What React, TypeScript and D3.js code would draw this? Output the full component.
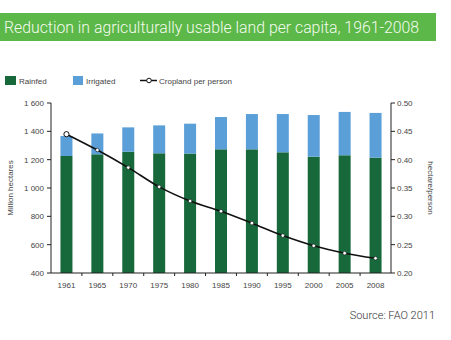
import React from "react";
import * as d3 from "d3";

const years = ["1961", "1965", "1970", "1975", "1980", "1985", "1990", "1995", "2000", "2005", "2008"];
const rainfed = [1226, 1238, 1256, 1245, 1243, 1273, 1273, 1252, 1221, 1231, 1214];
const totalLand = [1367, 1385, 1428, 1442, 1454, 1501, 1522, 1522, 1515, 1537, 1530];
const perPerson = [0.445, 0.417, 0.386, 0.352, 0.327, 0.309, 0.288, 0.266, 0.248, 0.235, 0.226];
const leftTicks = [400, 600, 800, 1000, 1200, 1400, 1600];
const rightTicks = [0.2, 0.25, 0.3, 0.35, 0.4, 0.45, 0.5];

const W = 451, H = 340;
const X0 = 51, X1 = 391, YT = 103, YB = 273;
const GREEN = "#17693b";
const BLUE = "#5b9fd8";
const TXT = "#444";
const FONT = "Liberation Sans, Arial, sans-serif";

const fmtLeft = (v: number) => (v >= 1000 ? `${Math.floor(v / 1000)} ${String(v % 1000).padStart(3, "0")}` : String(v));

export default function App() {
  const xb = d3.scaleBand<string>().domain(years).range([X0, X1]);
  const yL = d3.scaleLinear().domain([400, 1600]).range([YB, YT]);
  const yR = d3.scaleLinear().domain([0.2, 0.5]).range([YB, YT]);
  const cx = (yr: string) => (xb(yr) as number) + xb.bandwidth() / 2;
  const bw = 12;
  const line = d3
    .line<number>()
    .x((_, i) => cx(years[i]))
    .y((d) => yR(d))
    .curve(d3.curveMonotoneX);

  return (
    <svg width={W} height={H} style={{ position: "absolute", left: 0, top: 0, background: "#fff" }} fontFamily={FONT}>
      {/* Title band */}
      <rect x={0} y={13} width={436} height={28} fill="#5cb848" />
      <text x={4} y={33} fontSize={16} fontFamily="Roboto, sans-serif" fontWeight={300} fill="#f4fbef" textLength={415} lengthAdjust="spacingAndGlyphs">
        Reduction in agriculturally usable land per capita, 1961-2008
      </text>

      {/* Legend */}
      <rect x={5} y={76} width={11} height={9} fill={GREEN} />
      <text x={19} y={83.5} fontSize={8} fill={TXT}>Rainfed</text>
      <rect x={73} y={76} width={10} height={9} fill={BLUE} />
      <text x={86} y={83.5} fontSize={8} fill={TXT}>Irrigated</text>
      <line x1={140} x2={157} y1={80.5} y2={80.5} stroke="#111" strokeWidth={1.5} />
      <circle cx={149} cy={80.5} r={2.3} fill="#fff" stroke="#111" strokeWidth={1} />
      <text x={159} y={83.5} fontSize={8} fill={TXT}>Cropland per person</text>

      {/* Bars */}
      {years.map((yr, i) => (
        <g key={yr}>
          <rect x={cx(yr) - bw / 2} y={yL(rainfed[i])} width={bw} height={YB - yL(rainfed[i])} fill={GREEN} />
          <rect x={cx(yr) - bw / 2} y={yL(totalLand[i])} width={bw} height={yL(rainfed[i]) - yL(totalLand[i])} fill={BLUE} />
        </g>
      ))}

      {/* Line */}
      <path d={line(perPerson) || ""} fill="none" stroke="#111" strokeWidth={1.6} />
      {perPerson.map((v, i) => (
        <circle key={i} cx={cx(years[i])} cy={yR(v)} r={i === 0 ? 2.6 : 1.8} fill="#fff" stroke="#111" strokeWidth={i === 0 ? 1 : 0.6} />
      ))}

      {/* Left axis */}
      <line x1={X0} x2={X0} y1={YT} y2={YB} stroke="#222" strokeWidth={1} />
      {leftTicks.map((t) => (
        <g key={t}>
          <line x1={X0 - 4} x2={X0} y1={yL(t)} y2={yL(t)} stroke="#222" />
          <text x={44} y={yL(t) + 3} fontSize={8} fill={TXT} textAnchor="end">{fmtLeft(t)}</text>
        </g>
      ))}
      <text transform={`translate(13,${(YT + YB) / 2}) rotate(-90)`} fontSize={8} fill={TXT} textAnchor="middle">Million hectares</text>

      {/* Right axis */}
      <line x1={X1} x2={X1} y1={YT} y2={YB} stroke="#222" strokeWidth={1} />
      {rightTicks.map((t) => (
        <g key={t}>
          <line x1={X1} x2={X1 + 4} y1={yR(t)} y2={yR(t)} stroke="#222" />
          <text x={397} y={yR(t) + 3} fontSize={8} fill={TXT}>{t.toFixed(2)}</text>
        </g>
      ))}
      <text transform={`translate(428,${(YT + YB) / 2}) rotate(90)`} fontSize={8} fill={TXT} textAnchor="middle">hectare/person</text>

      {/* Bottom axis */}
      <line x1={X0} x2={X1} y1={YB} y2={YB} stroke="#222" strokeWidth={1} />
      {years.slice(1).map((yr) => (
        <line key={yr} x1={xb(yr) as number} x2={xb(yr) as number} y1={YB} y2={YB + 3} stroke="#222" />
      ))}
      {years.map((yr) => (
        <text key={yr} x={cx(yr)} y={288} fontSize={8} fill={TXT} textAnchor="middle">{yr}</text>
      ))}

      <text x={435} y={319} fontSize={11} fontFamily="Roboto, sans-serif" fontWeight={300} fill="#333" textAnchor="end">Source: FAO 2011</text>
    </svg>
  );
}
